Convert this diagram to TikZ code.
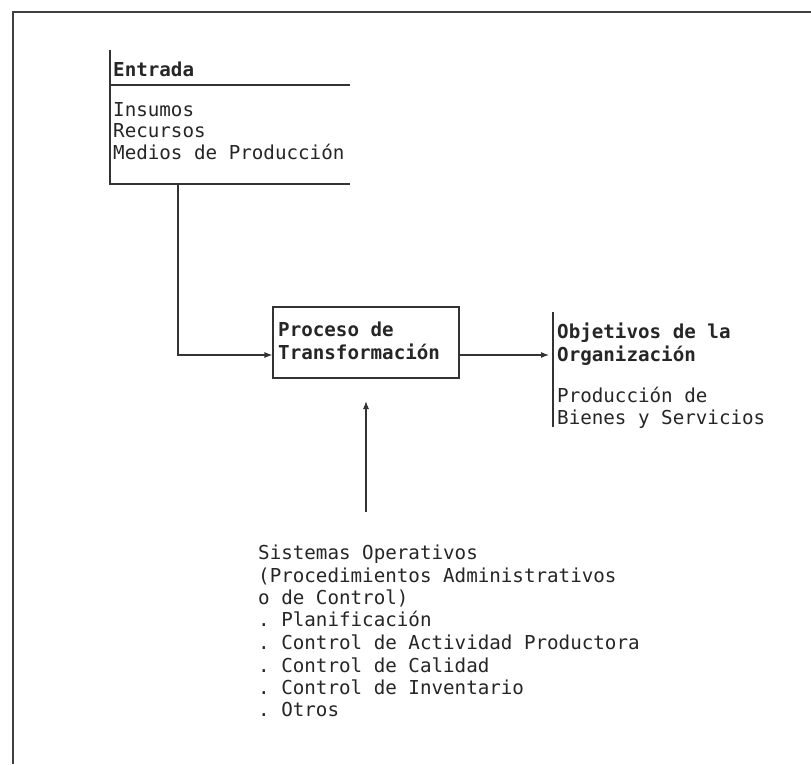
\documentclass[tikz,border=0pt]{standalone}
\usepackage{fontspec}
\setmonofont{DejaVu Sans Mono}
\usetikzlibrary{arrows.meta}
\begin{document}
\begin{tikzpicture}[x=1pt,y=-1pt,
  txt/.style={anchor=base west,inner sep=0pt,font=\ttfamily\fontsize{19.2}{23}\selectfont,text=black!85},
  hd/.style={txt,font=\ttfamily\bfseries\fontsize{19.2}{23}\selectfont},
  rule/.style={draw=black!80,line width=1.1pt},
  conn/.style={draw=black!80,line width=1.1pt,-{Latex[length=8pt,width=6pt]}},
  frame/.style={draw=black!75,line width=1.3pt}]
\useasboundingbox (0,0) rectangle (811,764);
\fill[white] (0,0) rectangle (811,764);

% outer frame
\draw[frame] (13,764) -- (13,12) -- (811,12);

% input block
\node[hd] (entrada) at (113,76) {Entrada};
\node[txt] (insumos) at (113,116) {Insumos};
\node[txt] (recursos) at (113,137) {Recursos};
\node[txt] (medios) at (113,159) {Medios de Producción};
\coordinate (eTL) at (110,50);
\coordinate (eBL) at (110,184);
\coordinate (eBR) at (350,184);
\coordinate (eMR) at (350,85);
\draw[rule] (eTL) -- (eBL) -- (eBR);
\draw[rule] (110,85) -- (eMR);

% transformation box
\node[draw=black!80,line width=1.1pt,minimum width=186pt,minimum height=71pt,inner sep=0pt] (proc) at (366,342.5) {};
\node[hd] (proc1) at (278,336) {Proceso de};
\node[hd] (proc2) at (278,359) {Transformación};

% objectives block
\node[hd] (obj1) at (557,338) {Objetivos de la};
\node[hd] (obj2) at (557,361) {Organización};
\node[txt] (prod1) at (557,402) {Producción de};
\node[txt] (prod2) at (557,424) {Bienes y Servicios};
\coordinate (oT) at (553,312);
\coordinate (oB) at (553,427);
\coordinate (oIn) at (549,355);
\draw[rule] (oT) -- (oB);

% operating systems list
\node[txt] (s1) at (258,559) {Sistemas Operativos};
\node[txt] (s2) at (258,582) {(Procedimientos Administrativos};
\node[txt] (s3) at (258,604) {o de Control)};
\node[txt] (s4) at (258,626) {. Planificación};
\node[txt] (s5) at (258,649) {. Control de Actividad Productora};
\node[txt] (s6) at (258,672) {. Control de Calidad};
\node[txt] (s7) at (258,694) {. Control de Inventario};
\node[txt] (s8) at (258,716) {. Otros};
\coordinate (sTop) at (366,512);
\coordinate (sTip) at (366,401);

% connectors
\draw[conn] (eBR -| 178,0) -- (178,355) -- (proc.west |- 0,355);
\draw[conn] (proc.east |- 0,355) -- (oIn);
\draw[conn] (sTop) -- (sTip);
\end{tikzpicture}
\end{document}
